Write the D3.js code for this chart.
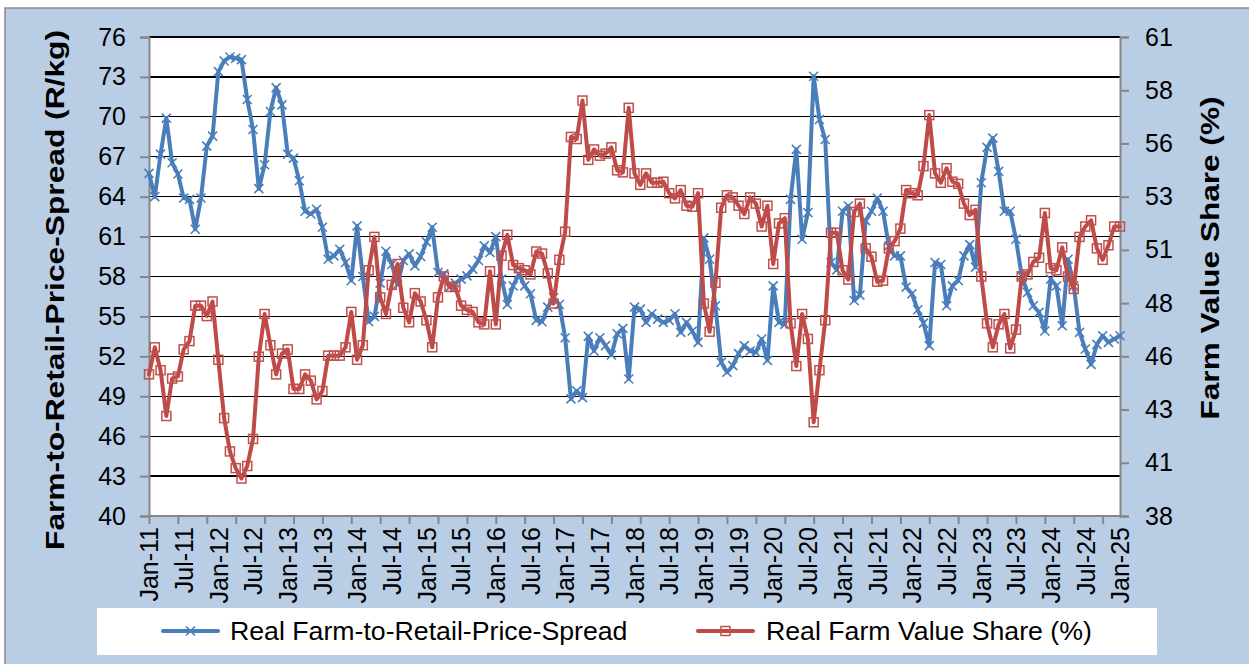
<!DOCTYPE html>
<html><head><meta charset="utf-8">
<script src="https://cdn.jsdelivr.net/npm/d3@7"></script>
<style>
body{margin:0;background:#fff;}
text{font-family:Arial,"Liberation Sans",sans-serif;fill:#000;}
</style>
</head><body>
<svg id="chart" width="1249" height="664"></svg>
<script>
// ---- DATA ----
const startMonth = new Date(2011, 0, 1);
const endMonth = new Date(2025, 0, 1);
const categories = d3.timeMonth.range(startMonth, d3.timeMonth.offset(endMonth, 1)).map(d3.timeFormat("%b-%y"));

const spreadValues = [
65.75,64.0,67.2,69.9,66.55,65.7,63.9,63.8,61.55,63.9,67.8,68.55,
73.4,74.2,74.5,74.4,74.3,71.3,69.05,64.6,66.4,70.4,72.2,70.9,
67.2,66.9,65.2,62.9,62.7,63.05,61.7,59.3,59.55,60.05,59.05,57.7,
61.8,58.0,54.6,55.0,57.5,59.9,58.9,57.4,59.2,59.7,58.8,59.5,
60.6,61.7,58.3,58.2,57.2,57.5,57.8,58.05,58.55,59.2,60.3,59.8,
61.0,57.8,55.9,57.3,58.2,57.3,56.7,54.7,54.6,55.7,56.4,55.9,
53.4,48.8,49.4,48.9,53.5,52.4,53.4,52.8,52.1,53.7,54.1,50.3,
55.7,55.55,54.55,55.2,54.8,54.55,54.7,55.2,53.8,54.55,53.9,53.05,
60.9,59.3,55.8,51.55,50.8,51.3,52.2,52.8,52.4,52.3,53.3,51.7,
57.3,54.55,54.4,63.8,67.55,60.8,62.8,73.05,69.8,68.3,59.05,58.5,
62.9,63.3,56.2,56.6,62.2,62.9,63.9,62.9,60.3,59.55,59.55,57.2,
56.7,55.5,54.5,52.8,59.05,58.9,55.8,57.3,57.7,59.55,60.4,58.7,
65.05,67.7,68.4,65.9,62.9,62.9,60.8,58.05,56.8,55.8,55.3,53.9,
57.8,57.3,54.3,59.3,57.3,53.8,52.55,51.4,52.9,53.55,53.05,53.3,
53.55
];

const shareValues = [
44.8,46.1,45.0,42.8,44.6,44.7,46.0,46.4,48.1,48.1,47.6,48.3,
45.5,42.7,41.1,40.3,39.8,40.4,41.7,45.65,47.7,46.2,44.8,45.8,
46.0,44.1,44.1,44.8,44.5,43.6,44.0,45.7,45.7,45.7,46.1,47.8,
45.5,46.2,49.8,51.4,48.5,47.7,49.1,50.1,48.0,47.3,48.7,48.3,
47.4,46.1,48.5,49.5,49.0,49.0,48.1,47.9,47.8,47.3,47.2,49.75,
47.2,50.5,51.5,50.05,49.9,49.8,49.6,50.7,50.6,49.65,48.2,50.3,
51.65,56.2,56.1,57.95,55.1,55.6,55.3,55.4,55.7,54.6,54.5,57.6,
54.45,53.9,54.45,54.0,54.0,54.05,53.5,53.25,53.65,52.9,52.85,53.5,
48.2,46.85,49.2,52.8,53.4,53.3,52.9,52.5,53.3,53.0,51.9,52.9,
50.1,52.05,52.3,47.25,45.2,47.7,46.5,42.5,45.0,47.4,51.6,51.6,
49.8,49.35,52.6,53.0,50.85,50.45,49.25,49.3,50.85,51.2,51.8,53.65,
53.5,53.4,54.8,57.25,54.45,54.0,54.7,54.05,53.95,53.0,52.45,52.7,
49.5,47.25,46.1,47.2,47.7,46.05,46.95,49.5,49.6,50.2,50.4,52.55,
49.9,49.8,50.9,49.5,48.9,51.4,51.9,52.2,50.85,50.3,51.0,51.9,
51.9
];

const leftTicks = [40,43,46,49,52,55,58,61,64,67,70,73,76];
const rightTickCount = 9;            // 38 .. 61 in 9 equal steps
const rightDomain = [38, 61];
const xTickLabels = ["Jan-11","Jul-11","Jan-12","Jul-12","Jan-13","Jul-13","Jan-14","Jul-14",
  "Jan-15","Jul-15","Jan-16","Jul-16","Jan-17","Jul-17","Jan-18","Jul-18","Jan-19","Jul-19",
  "Jan-20","Jul-20","Jan-21","Jul-21","Jan-22","Jul-22","Jan-23","Jul-23","Jan-24","Jul-24","Jan-25"];
const seriesNames = ["Real Farm-to-Retail-Price-Spread", "Real Farm Value Share (%)"];
const leftTitle = "Farm-to-Retail-Price-Spread (R/kg)";
const rightTitle = "Farm Value Share (%)";

// ---- LAYOUT ----
const svg = d3.select("#chart");
const P = {l:149, r:1120, t:37, b:516};
const blue = "#4a7ebb", red = "#be4b48", axisGray = "#868686";

svg.append("rect").attr("x",5).attr("y",8).attr("width",1260).attr("height",670)
  .attr("fill","#b9cde5").attr("stroke","#8a8a8a").attr("stroke-width",1.5);

const x = d3.scalePoint().domain(categories).range([P.l, P.r]);
const yL = d3.scaleLinear().domain([40,76]).range([P.b, P.t]);
const yR = d3.scaleLinear().domain(rightDomain).range([P.b, P.t]);
const rightTicks = d3.range(rightTickCount+1).map(k => rightDomain[0] + k*(rightDomain[1]-rightDomain[0])/rightTickCount);

svg.append("rect").attr("x",P.l).attr("y",P.t).attr("width",P.r-P.l).attr("height",P.b-P.t).attr("fill","#fff");

// gridlines
svg.append("g").selectAll("line").data(leftTicks.filter(d=>d>40)).join("line")
  .attr("x1",P.l).attr("x2",P.r).attr("y1",d=>yL(d)).attr("y2",d=>yL(d))
  .attr("stroke","#000").attr("stroke-width",1.3).attr("shape-rendering","crispEdges");

// left axis
const gL = svg.append("g").attr("transform",`translate(${P.l},0)`)
  .call(d3.axisLeft(yL).tickValues(leftTicks).tickSize(9).tickPadding(14).tickFormat(d3.format("d")));
// right axis
const gR = svg.append("g").attr("transform",`translate(${P.r},0)`)
  .call(d3.axisRight(yR).tickValues(rightTicks).tickSize(9).tickPadding(16).tickFormat(d=>Math.round(d)));
// bottom axis: ticks every 5 months, labels every 6 months
const tickCats = categories.filter((c,i)=>i%5===0);
const gB = svg.append("g").attr("transform",`translate(0,${P.b})`)
  .call(d3.axisBottom(x).tickValues(tickCats).tickSize(8).tickFormat(""));
const gBL = svg.append("g").attr("transform",`translate(0,${P.b})`)
  .call(d3.axisBottom(x).tickValues(xTickLabels).tickSize(0).tickPadding(0));
gBL.select(".domain").remove();
gBL.selectAll("text").attr("transform","rotate(-90)").attr("text-anchor","end")
  .attr("x",-11).attr("y",0).attr("dy","0.35em");

[gL,gR,gB,gBL].forEach(g=>{
  g.selectAll(".domain").attr("stroke",axisGray).attr("stroke-width",2);
  g.selectAll(".tick line").attr("stroke",axisGray).attr("stroke-width",2);
  g.selectAll("text").style("font-size","25px").style("font-family","Arial,'Liberation Sans',sans-serif").attr("fill","#000");
});
gB.select(".domain").attr("d",`M${P.l},0H${P.r}`);

// lines
const idx = d3.range(categories.length);
const lineL = d3.line().x(i=>x(categories[i])).y(i=>yL(spreadValues[i]));
const lineR = d3.line().x(i=>x(categories[i])).y(i=>yR(shareValues[i]));

svg.append("path").attr("d",lineL(idx)).attr("fill","none").attr("stroke",blue)
  .attr("stroke-width",4).attr("stroke-linejoin","round").attr("stroke-linecap","round");
const m = 4.5;
svg.append("g").selectAll("path").data(idx).join("path")
  .attr("d",i=>{const cx=x(categories[i]), cy=yL(spreadValues[i]);
    return `M${cx-m},${cy-m}L${cx+m},${cy+m}M${cx-m},${cy+m}L${cx+m},${cy-m}`;})
  .attr("stroke",blue).attr("stroke-width",1.6).attr("fill","none");

svg.append("path").attr("d",lineR(idx)).attr("fill","none").attr("stroke",red)
  .attr("stroke-width",4).attr("stroke-linejoin","round").attr("stroke-linecap","round");
const s = 4.5;
svg.append("g").selectAll("rect").data(idx).join("rect")
  .attr("x",i=>x(categories[i])-s).attr("y",i=>yR(shareValues[i])-s)
  .attr("width",2*s).attr("height",2*s)
  .attr("fill","none").attr("stroke","#c0504d").attr("stroke-width",1.5);

// axis titles
svg.append("text").attr("transform","translate(64,290) rotate(-90)").attr("text-anchor","middle")
  .attr("textLength",520).attr("lengthAdjust","spacingAndGlyphs")
  .style("font-size","25px").style("font-weight","bold").text(leftTitle);
svg.append("text").attr("transform","translate(1219,258) rotate(-90)").attr("text-anchor","middle")
  .attr("textLength",323).attr("lengthAdjust","spacingAndGlyphs")
  .style("font-size","25px").style("font-weight","bold").text(rightTitle);

// legend
svg.append("rect").attr("x",97).attr("y",608).attr("width",1060).attr("height",47).attr("fill","#fff");
const lg = [{c:blue, x0:163, tx:230, type:"x"},{c:red, x0:698, tx:766, type:"sq"}];
lg.forEach((d,k)=>{
  svg.append("line").attr("x1",d.x0).attr("x2",d.x0+55).attr("y1",631).attr("y2",631)
    .attr("stroke",d.c).attr("stroke-width",4).attr("stroke-linecap","round");
  const cx = d.x0+27.5, cy=631;
  if(d.type==="x"){
    svg.append("path").attr("d",`M${cx-m},${cy-m}L${cx+m},${cy+m}M${cx-m},${cy+m}L${cx+m},${cy-m}`)
      .attr("stroke",d.c).attr("stroke-width",1.6);
  } else {
    svg.append("rect").attr("x",cx-s).attr("y",cy-s).attr("width",2*s).attr("height",2*s)
      .attr("fill","none").attr("stroke","#c0504d").attr("stroke-width",1.5);
  }
  svg.append("text").attr("x",d.tx).attr("y",640).style("font-size","26.7px").text(seriesNames[k]);
});
</script>
</body></html>
